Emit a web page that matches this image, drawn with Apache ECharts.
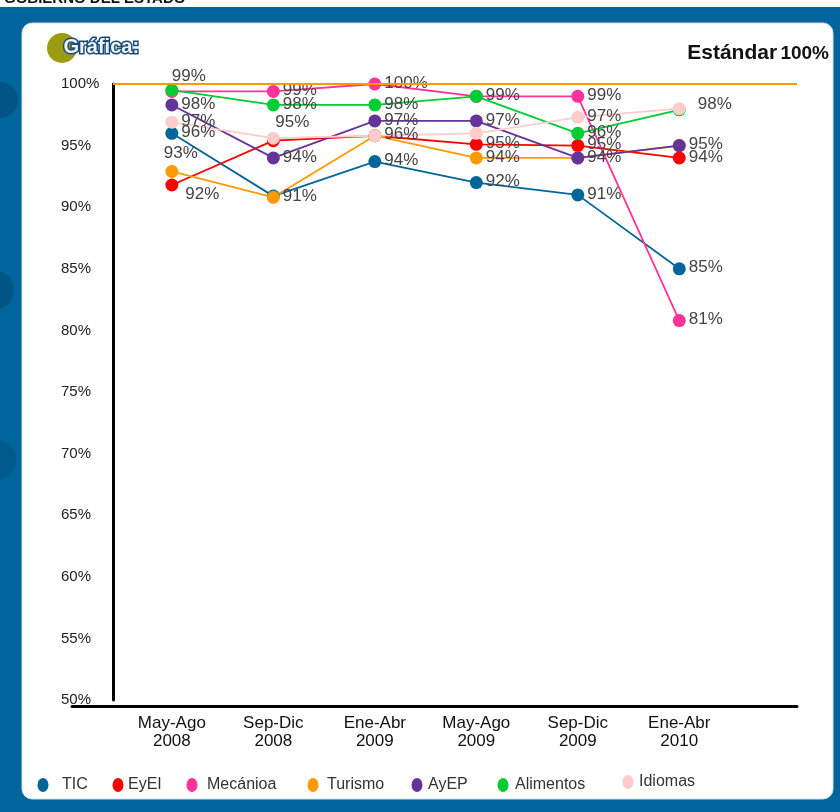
<!DOCTYPE html>
<html>
<head>
<meta charset="utf-8">
<script src="https://cdn.jsdelivr.net/npm/echarts@6/dist/echarts.min.js"></script>
<style>
html,body{margin:0;padding:0;background:#00659c;}
#chart{width:840px;height:812px;}
</style>
</head>
<body>
<div id="chart"></div>
<script>
// periodos (eje x)
const categories = ['May-Ago\n2008', 'Sep-Dic\n2008', 'Ene-Abr\n2009', 'May-Ago\n2009', 'Sep-Dic\n2009', 'Ene-Abr\n2010']
const yTicks = [50, 55, 60, 65, 70, 75, 80, 85, 90, 95, 100]
const standard = 100

// valores por carrera (%)
const tic = [96, 90.9, 93.7, 92, 91, 85]
const eyei = [91.8, 95.4, 95.8, 95.1, 95, 94]
const mecanica = [99.4, 99.4, 100, 99, 99, 80.8]
const turismo = [92.9, 90.8, 95.8, 94, 94, 95]
const ayep = [98.3, 94, 97, 97, 94, 95]
const alimentos = [99.5, 98.3, 98.3, 99, 96, 97.9]
const idiomas = [96.9, 95.6, 95.8, 96, 97.3, 98]

const names = ['TIC', 'EyEI', 'Mecánioa', 'Turismo', 'AyEP', 'Alimentos', 'Idiomas']
const colors = ['#006699', '#ff0000', '#ff3399', '#ff9900', '#663399', '#00cc33', '#ffcccc']
const values = [tic, eyei, mecanica, turismo, ayep, alimentos, idiomas]

// que puntos llevan etiqueta (1 = si)
const shown = [
    [1, 0, 1, 1, 1, 1],
    [1, 1, 1, 1, 1, 1],
    [1, 1, 1, 0, 1, 1],
    [1, 1, 0, 1, 1, 0],
    [1, 1, 1, 1, 0, 1],
    [0, 1, 1, 1, 1, 1],
    [1, 0, 0, 0, 1, 0]
]
// etiquetas que no van a la derecha
const special = {
    '1-0': {position: 'right', offset: [4, 9]},
    '1-1': {position: 'top', offset: [19, 0]},
    '2-0': {position: 'top', offset: [17, 3]},
    '3-0': {position: 'top', offset: [9, 0]},
    '5-5': {position: 'right', distance: 12, offset: [0, -6]}
}

// leyenda: centro del icono y comienzo del texto
const legendIconX = [43, 118, 192, 313, 417, 503, 628]
const legendTextX = [62, 128, 207, 327, 428, 515, 639]

const ellipse = 'path://M5,0A5,5,0,1,1,5,10A5,5,0,1,1,5,0Z'

let series = []
for (let s = 0; s < names.length; s++) {
    let data = []
    for (let i = 0; i < values[s].length; i++) {
        let item = {value: [i, values[s][i]]}
        let lab = {show: shown[s][i] === 1}
        if (special[s + '-' + i]) Object.assign(lab, special[s + '-' + i])
        item.label = lab
        data.push(item)
    }
    series.push({
        name: names[s],
        type: 'line',
        data: data,
        symbol: 'circle',
        symbolSize: 13,
        color: colors[s],
        lineStyle: {width: 1.8},
        label: {
            position: 'right',
            distance: 3,
            offset: [0, -1],
            color: '#444',
            fontSize: 17,
            fontFamily: 'Liberation Sans, Arial',
            formatter: (p) => Math.round(p.value[1]) + '%'
        },
        emphasis: {disabled: true},
        animation: false
    })
}
series.unshift({
    name: 'Estándar',
    type: 'line',
    data: [],
    markLine: {
        silent: true,
        symbol: 'none',
        label: {show: false},
        lineStyle: {color: '#ff9900', width: 2, type: 'solid'},
        data: [{yAxis: standard}]
    },
    animation: false
})

let legends = []
for (let i = 0; i < names.length; i++) {
    legends.push({
        data: [names[i]],
        left: legendIconX[i] - 5.5,
        top: i === 6 ? 774 : 777,
        padding: 0,
        icon: ellipse,
        symbolKeepAspect: false,
        itemWidth: 11,
        itemHeight: 14,
        textStyle: {fontSize: 16, color: '#333', padding: [0, 0, 0, legendTextX[i] - legendIconX[i] - 10.5]},
        selectedMode: false
    })
}

let chart = echarts.init(document.getElementById('chart'))
chart.setOption({
    backgroundColor: '#00659c',
    textStyle: {fontFamily: 'Liberation Sans, Arial'},
    graphic: [
        {type: 'rect', z: -10, shape: {x: 0, y: 0, width: 840, height: 7}, style: {fill: '#ffffff'}},
        {type: 'text', z: -9, left: 4, top: -9, style: {text: 'GOBIERNO DEL ESTADO', fontSize: 15, fontWeight: 'bold', fill: '#111'}},
        {type: 'rect', z: -9, shape: {x: 0, y: 7, width: 840, height: 3}, style: {fill: '#00659c'}},
        {type: 'circle', z: -9, shape: {cx: 0, cy: 100, r: 18}, style: {fill: '#005585'}},
        {type: 'circle', z: -9, shape: {cx: -6, cy: 290, r: 20}, style: {fill: '#005585'}},
        {type: 'circle', z: -9, shape: {cx: -4, cy: 460, r: 20}, style: {fill: '#005a8c'}},
        {type: 'rect', z: -8, shape: {x: 22, y: 23, width: 811, height: 776, r: 10}, style: {fill: '#ffffff', stroke: '#cfe0ea', lineWidth: 1}},
        {type: 'circle', z: -7, shape: {cx: 62, cy: 48, r: 15}, style: {fill: '#9c9c12'}},
        {type: 'text', z: -6, left: 62, top: 36, style: {text: 'Gráfica:', fontSize: 20, fontWeight: 'bold', fill: '#eef3f8', stroke: '#1d4a75', lineWidth: 3, shadowBlur: 6, shadowColor: 'rgba(0,0,0,0.5)', shadowOffsetY: 3}},
        {type: 'text', z: -6, right: 11, top: 43, style: {
            text: '{a|Estándar} {b|100%}',
            rich: {
                a: {fontSize: 21, fontWeight: 'bold', fill: '#111'},
                b: {fontSize: 19, fontWeight: 'bold', fill: '#111'}
            }
        }}
    ],
    legend: legends,
    grid: [
        {left: 113, right: 43, top: 84, bottom: 112},
        {left: 72, width: 41, top: 84, bottom: 112}
    ],
    xAxis: [
        {
            type: 'value',
            min: -0.58,
            max: 6.16,
            offset: 6,
            axisLine: {onZero: false, lineStyle: {color: '#000', width: 3}},
            axisTick: {show: false},
            splitLine: {show: false},
            axisLabel: {
                customValues: [0, 1, 2, 3, 4, 5],
                formatter: (v) => categories[Math.round(v)],
                color: '#111',
                fontSize: 17,
                lineHeight: 18,
                margin: 8
            }
        },
        {
            type: 'value',
            gridIndex: 1,
            min: 0,
            max: 1,
            offset: 6,
            axisLine: {onZero: false, lineStyle: {color: '#000', width: 3}},
            axisTick: {show: false},
            splitLine: {show: false},
            axisLabel: {show: false}
        }
    ],
    yAxis: [
        {
            type: 'value',
            min: yTicks[0],
            max: yTicks[yTicks.length - 1],
            interval: 5,
            axisLine: {show: true, onZero: false, lineStyle: {color: '#000', width: 3}},
            axisTick: {show: false},
            splitLine: {show: false},
            axisLabel: {
                formatter: '{value}%',
                align: 'left',
                margin: 52,
                color: '#222',
                fontSize: 15
            }
        },
        {type: 'value', gridIndex: 1, min: 0, max: 1, show: false}
    ],
    series: series
})
</script>
</body>
</html>
